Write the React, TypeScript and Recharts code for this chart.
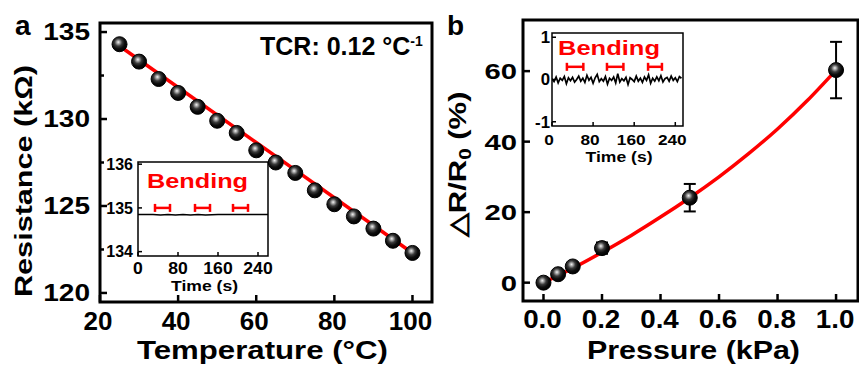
import React from 'react';
import { ComposedChart, Line, Scatter, XAxis, YAxis, ErrorBar, ReferenceArea } from 'recharts';

const FONT = '"Liberation Sans", Arial, Helvetica, sans-serif';

// panel a: resistance vs temperature
const temperatures = [25, 30, 35, 40, 45, 50, 55, 60, 65, 70, 75, 80, 85, 90, 95, 100];
const resistances = [134.3, 133.3, 132.3, 131.5, 130.7, 129.9, 129.2, 128.2, 127.5, 126.9, 125.9, 125.1, 124.4, 123.7, 123.0, 122.3];
const tempFitX = [25, 100];
const tempFitY = [134.2, 122.3];
const tempTicks = [20, 40, 60, 80, 100];
const resistTicks = [120, 122.5, 125, 127.5, 130, 132.5, 135];

// inset a: resistance during bending
const insetATime = [0, 30, 45, 60, 75, 90, 105, 120, 135, 160, 200, 260];
const insetAValue = [134.85, 134.85, 134.84, 134.85, 134.84, 134.85, 134.84, 134.85, 134.84, 134.85, 134.85, 134.85];
const bendAStart = [34, 114, 190];
const bendAEnd = [64, 144, 220];
const insetATimeTicks = [0, 80, 160, 240];
const insetAResTicks = [134, 135, 136];

// panel b: response vs pressure
const pressures = [0, 0.05, 0.1, 0.2, 0.5, 1.0];
const responses = [0, 2.4, 4.6, 9.8, 24.1, 60.3];
const responseErr = [0.6, 0.8, 1.0, 1.6, 3.9, 8.0];
const pressFitX = [0, 0.1, 0.2, 0.3, 0.4, 0.5, 0.6, 0.7, 0.8, 0.9, 1.0];
const pressFitY = [0, 4.1, 8.6, 13.4, 18.6, 24.1, 30.0, 36.5, 43.6, 51.5, 60.3];
const pressTicks = [0, 0.2, 0.4, 0.6, 0.8, 1.0];
const responseTicks = [0, 20, 40, 60];

// inset b: response during bending
const insetBTime = [0, 4, 8, 12, 16, 20, 24, 28, 32, 36, 40, 44, 48, 52, 56, 60, 64, 68, 72, 76, 80, 84, 88, 92, 96, 100, 104, 108, 112, 116, 120, 124, 128, 132, 136, 140, 144, 148, 152, 156, 160, 164, 168, 172, 176, 180, 184, 188, 192, 196, 200, 204, 208, 212, 216, 220, 224, 228, 232, 236, 240, 244, 248, 252];
const insetBValue = [0.02, -0.05, 0.06, -0.08, 0.03, -0.02, 0.07, -0.1, 0.04, -0.03, 0.05, -0.06, 0.0, 0.08, -0.04, 0.03, -0.07, 0.1, -0.02, 0.05, -0.09, 0.04, 0.12, -0.05, 0.02, -0.04, 0.07, -0.11, 0.03, -0.02, 0.06, -0.08, 0.14, -0.06, 0.02, -0.03, 0.05, -0.12, 0.04, 0.0, -0.05, 0.08, -0.04, 0.03, -0.07, 0.06, -0.02, 0.11, -0.09, 0.03, -0.04, 0.06, -0.03, 0.09, -0.06, 0.02, 0.05, -0.04, 0.08, -0.02, 0.04, -0.05, 0.07, 0.03];
const bendBStart = [29, 107, 187];
const bendBEnd = [61, 139, 214];
const insetBTimeTicks = [0, 80, 160, 240];
const insetBTicks = [-1, 0, 1];

const pts = (xs: number[], ys: number[]) => xs.map((x, i) => ({ x, y: ys[i] }));
const brackets = (s: number[], e: number[], y: number) =>
  s.map((v, i) => ({ x: (v + e[i]) / 2, y, xe: (e[i] - v) / 2 }));

const tempData = pts(temperatures, resistances);
const tempFit = pts(tempFitX, tempFitY);
const insetAData = pts(insetATime, insetAValue);
const bendA = brackets(bendAStart, bendAEnd, 135.0);
const pressData = pressures.map((x, i) => ({ x, y: responses[i], err: responseErr[i] }));
const pressFit = pts(pressFitX, pressFitY);
const insetBData = pts(insetBTime, insetBValue);
const bendB = brackets(bendBStart, bendBEnd, 0.3);

const Ball = (props: any) => {
  const { cx, cy } = props;
  if (cx == null || cy == null) return <g />;
  return <circle cx={cx} cy={cy} r={7.5} fill="url(#ball)" stroke="#000" strokeWidth={1} />;
};

const NoShape = () => <g />;

const LeftTick = (props: any) => {
  const { x = 0, y = 0, payload, len = 7, minorLen = 4, gap = 8, fs = 22, sx = 1, sw = 2.5, fmt = String, isMajor } = props;
  const v = payload?.value ?? 0;
  const major = isMajor ? isMajor(v) : true;
  return (
    <g>
      <line x1={x} y1={y} x2={x + (major ? len : minorLen)} y2={y} stroke="#000" strokeWidth={sw} />
      {major && (
        <text
          transform={`translate(${x - gap},${y + fs * 0.358}) scale(${sx},1)`}
          textAnchor="end"
          fontSize={fs}
          fontWeight="bold"
          fontFamily={FONT}
          fill="#000"
        >
          {fmt(v)}
        </text>
      )}
    </g>
  );
};

const BottomTick = (props: any) => {
  const { x = 0, y = 0, payload, len = 7, base = 28, fs = 24, sx = 1, sw = 2.5, shift = 0, fmt = String } = props;
  const v = payload?.value ?? 0;
  return (
    <g>
      <line x1={x} y1={y} x2={x} y2={y - len} stroke="#000" strokeWidth={sw} />
      <text
        transform={`translate(${x + shift},${y + base}) scale(${sx},1)`}
        textAnchor="middle"
        fontSize={fs}
        fontWeight="bold"
        fontFamily={FONT}
        fill="#000"
      >
        {fmt(v)}
      </text>
    </g>
  );
};

const txt = { fontFamily: FONT, fontWeight: 'bold' as const, fill: '#000' };

export default function App() {
  return (
    <div style={{ position: 'absolute', left: 0, top: 0, width: 859, height: 371, background: '#fff', overflow: 'hidden' }}>
      <svg width={0} height={0} style={{ position: 'absolute' }}>
        <defs>
          <radialGradient id="ball" cx="0.42" cy="0.4" r="0.6" fx="0.42" fy="0.36">
            <stop offset="0" stopColor="#f2f2f2" />
            <stop offset="0.18" stopColor="#a5a5a5" />
            <stop offset="0.42" stopColor="#3a3a3a" />
            <stop offset="0.7" stopColor="#0d0d0d" />
            <stop offset="1" stopColor="#000" />
          </radialGradient>
        </defs>
      </svg>

      {/* panel a */}
      <div style={{ position: 'absolute', left: 0, top: 0 }}>
        <ComposedChart width={440} height={371} margin={{ top: 23, right: 8, bottom: 0, left: 0 }}>
          <XAxis
            dataKey="x"
            type="number"
            domain={[20, 105]}
            allowDataOverflow
            ticks={tempTicks}
            interval={0}
            height={69}
            axisLine={false}
            tickLine={false}
            tickSize={0}
            tickMargin={0}
            tick={<BottomTick fs={25} base={28} shift={-2} sx={1.04} />}
          />
          <YAxis
            type="number"
            domain={[119.48, 135.52]}
            allowDataOverflow
            ticks={resistTicks}
            interval={0}
            width={100}
            axisLine={false}
            tickLine={false}
            tickSize={0}
            tickMargin={0}
            tick={<LeftTick fs={23} sx={1.22} gap={10} isMajor={(v: number) => v % 5 === 0} />}
          />
          <ReferenceArea x1={20} x2={105} y1={119.48} y2={135.52} fill="none" stroke="#000" strokeWidth={3} ifOverflow="visible" />
          <Line data={tempFit} dataKey="y" stroke="#ff0000" strokeWidth={3.5} dot={false} isAnimationActive={false} />
          <Scatter data={tempData} dataKey="y" shape={Ball} isAnimationActive={false} />
        </ComposedChart>
      </div>

      {/* inset a */}
      <div style={{ position: 'absolute', left: 138, top: 162, width: 130, height: 94, background: '#fff' }} />
      <div style={{ position: 'absolute', left: 100, top: 150 }}>
        <ComposedChart width={176} height={150} margin={{ top: 12, right: 8, bottom: 0, left: 0 }}>
          <XAxis
            dataKey="x"
            type="number"
            domain={[0, 260]}
            allowDataOverflow
            ticks={insetATimeTicks}
            interval={0}
            height={44}
            axisLine={false}
            tickLine={false}
            tickSize={0}
            tickMargin={0}
            tick={<BottomTick fs={16} base={18} sx={1.1} len={4} sw={1.5} />}
          />
          <YAxis
            type="number"
            domain={[133.9, 136.05]}
            allowDataOverflow
            ticks={insetAResTicks}
            interval={0}
            width={38}
            axisLine={false}
            tickLine={false}
            tickSize={0}
            tickMargin={0}
            tick={<LeftTick fs={16} gap={5} len={4} sw={1.5} />}
          />
          <ReferenceArea x1={0} x2={260} y1={133.9} y2={136.05} fill="none" stroke="#000" strokeWidth={1.5} ifOverflow="visible" />
          <Line data={insetAData} dataKey="y" stroke="#000" strokeWidth={1.5} dot={false} isAnimationActive={false} />
          <Scatter data={bendA} dataKey="y" shape={NoShape} isAnimationActive={false}>
            <ErrorBar dataKey="xe" direction="x" stroke="#ff0000" strokeWidth={2.5} width={4} />
          </Scatter>
        </ComposedChart>
      </div>

      {/* panel b */}
      <div style={{ position: 'absolute', left: 430, top: 0 }}>
        <ComposedChart width={429} height={371} margin={{ top: 20, right: 1, bottom: 0, left: 0 }}>
          <XAxis
            dataKey="x"
            type="number"
            domain={[-0.07, 1.075]}
            allowDataOverflow
            ticks={pressTicks}
            interval={0}
            height={70}
            axisLine={false}
            tickLine={false}
            tickSize={0}
            tickMargin={0}
            tick={<BottomTick fs={25} base={27} sx={1.11} shift={-1} fmt={(v: number) => v.toFixed(1)} />}
          />
          <YAxis
            type="number"
            domain={[-5.2, 74.5]}
            allowDataOverflow
            ticks={responseTicks}
            interval={0}
            width={93}
            axisLine={false}
            tickLine={false}
            tickSize={0}
            tickMargin={0}
            tick={<LeftTick fs={22.5} sx={1.3} gap={6} />}
          />
          <ReferenceArea x1={-0.07} x2={1.075} y1={-5.2} y2={74.5} fill="none" stroke="#000" strokeWidth={3} ifOverflow="visible" />
          <Line data={pressFit} dataKey="y" type="natural" stroke="#ff0000" strokeWidth={3.5} dot={false} isAnimationActive={false} />
          <Scatter data={pressData} dataKey="y" shape={Ball} isAnimationActive={false}>
            <ErrorBar dataKey="err" direction="y" stroke="#000" strokeWidth={2} width={6} />
          </Scatter>
        </ComposedChart>
      </div>

      {/* inset b */}
      <div style={{ position: 'absolute', left: 552, top: 33, width: 131, height: 93, background: '#fff' }} />
      <div style={{ position: 'absolute', left: 520, top: 22 }}>
        <ComposedChart width={171} height={150} margin={{ top: 11, right: 8, bottom: 0, left: 0 }}>
          <XAxis
            dataKey="x"
            type="number"
            domain={[0, 255]}
            allowDataOverflow
            ticks={insetBTimeTicks}
            interval={0}
            height={46}
            axisLine={false}
            tickLine={false}
            tickSize={0}
            tickMargin={0}
            tick={<BottomTick fs={15} base={19} sx={1.15} shift={-3} len={4} sw={1.5} />}
          />
          <YAxis
            type="number"
            domain={[-1.1, 1.1]}
            allowDataOverflow
            ticks={insetBTicks}
            interval={0}
            width={32}
            axisLine={false}
            tickLine={false}
            tickSize={0}
            tickMargin={0}
            tick={<LeftTick fs={16} sx={1.05} gap={2} len={4} sw={1.5} />}
          />
          <ReferenceArea x1={0} x2={255} y1={-1.1} y2={1.1} fill="none" stroke="#000" strokeWidth={1.5} ifOverflow="visible" />
          <Line data={insetBData} dataKey="y" stroke="#000" strokeWidth={1.7} dot={false} isAnimationActive={false} />
          <Scatter data={bendB} dataKey="y" shape={NoShape} isAnimationActive={false}>
            <ErrorBar dataKey="xe" direction="x" stroke="#ff0000" strokeWidth={2.5} width={4} />
          </Scatter>
        </ComposedChart>
      </div>

      {/* titles and annotations */}
      <svg width={859} height={371} style={{ position: 'absolute', left: 0, top: 0, pointerEvents: 'none' }}>
        <text x={15} y={35} fontSize={28} {...txt}>a</text>
        <text x={447} y={35} fontSize={28} {...txt}>b</text>
        <text x={260} y={55} fontSize={25} {...txt}>
          TCR: 0.12 °C<tspan dy={-9} fontSize={14}>-1</tspan>
        </text>
        <text x={262.5} y={359} fontSize={26} textAnchor="middle" textLength={251} lengthAdjust="spacingAndGlyphs" {...txt}>
          Temperature (°C)
        </text>
        <text x={693.5} y={359} fontSize={26} textAnchor="middle" textLength={213} lengthAdjust="spacingAndGlyphs" {...txt}>
          Pressure (kPa)
        </text>
        <text transform="translate(32,181) rotate(-90)" fontSize={24} textAnchor="middle" textLength={232} lengthAdjust="spacingAndGlyphs" {...txt}>
          Resistance (kΩ)
        </text>
        <text transform="translate(466,164) rotate(-90)" fontSize={24} textAnchor="middle" textLength={145} lengthAdjust="spacingAndGlyphs" {...txt}>
          △R/R<tspan dy={5} fontSize={16}>0</tspan><tspan dy={-5}> (%)</tspan>
        </text>
        <text x={197.5} y={188} fontSize={20} textAnchor="middle" textLength={101} lengthAdjust="spacingAndGlyphs" {...txt} fill="#ff0000">
          Bending
        </text>
        <text x={609} y={55} fontSize={21} textAnchor="middle" textLength={102} lengthAdjust="spacingAndGlyphs" {...txt} fill="#ff0000">
          Bending
        </text>
        <text x={204.5} y={291} fontSize={15} textAnchor="middle" textLength={67} lengthAdjust="spacingAndGlyphs" {...txt}>
          Time (s)
        </text>
        <text x={619} y={162} fontSize={15} textAnchor="middle" textLength={67} lengthAdjust="spacingAndGlyphs" {...txt}>
          Time (s)
        </text>
      </svg>
    </div>
  );
}
